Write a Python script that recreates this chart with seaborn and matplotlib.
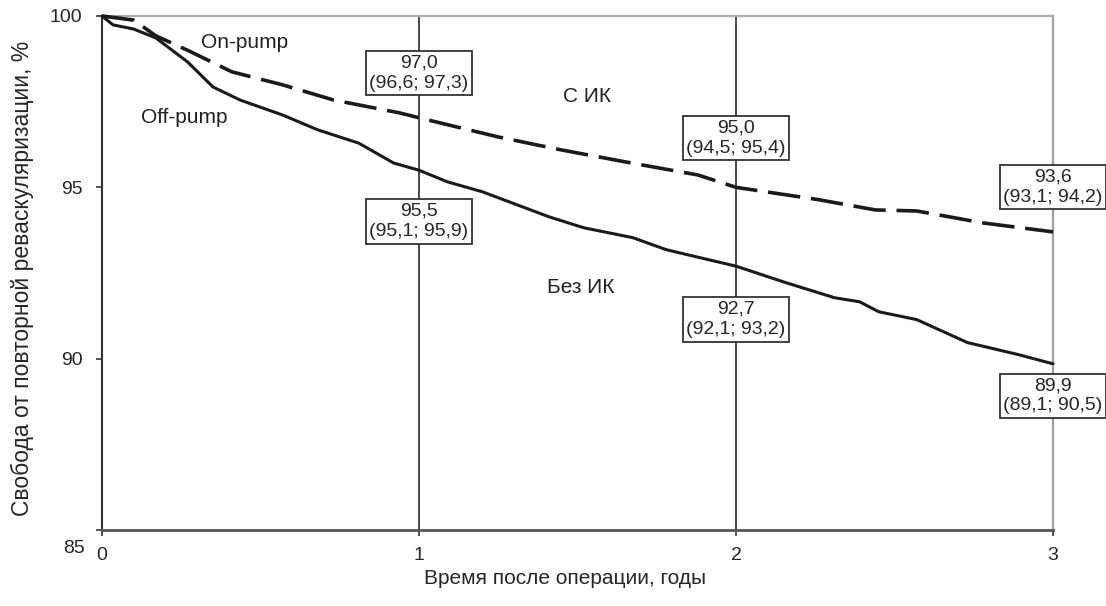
import numpy as np
import pandas as pd
import matplotlib
matplotlib.use("Agg")
import matplotlib.pyplot as plt
import seaborn as sns

# Данные
off_t = [0, 0.035, 0.10, 0.17, 0.27, 0.35, 0.435, 0.57, 0.68, 0.73, 0.81, 0.92, 1.0,
         1.09, 1.20, 1.41, 1.52, 1.675, 1.78, 1.94, 2.0, 2.15, 2.31, 2.39, 2.45,
         2.57, 2.73, 2.89, 3.0]
off_s = [100, 99.74, 99.62, 99.36, 98.66, 97.93, 97.55, 97.11, 96.68, 96.53, 96.29,
         95.71, 95.5, 95.16, 94.87, 94.14, 93.82, 93.53, 93.18, 92.83, 92.7, 92.24,
         91.78, 91.66, 91.37, 91.14, 90.47, 90.12, 89.85]

on_t = [0, 0.10, 0.17, 0.27, 0.41, 0.57, 0.73, 0.94, 1.0, 1.25, 1.45, 1.67, 1.88,
        2.0, 2.26, 2.44, 2.57, 2.78, 3.0]
on_s = [100, 99.88, 99.42, 99.0, 98.37, 97.99, 97.55, 97.17, 97.03, 96.47, 96.09,
        95.71, 95.36, 95.0, 94.64, 94.34, 94.31, 93.96, 93.7]

box_x = [1, 2, 3, 1, 2, 3]
box_y = [98.34, 96.44, 95.01, 94.0, 91.14, 88.92]
box_text = ["97,0\n(96,6; 97,3)", "95,0\n(94,5; 95,4)", "93,6\n(93,1; 94,2)",
            "95,5\n(95,1; 95,9)", "92,7\n(92,1; 93,2)", "89,9\n(89,1; 90,5)"]

curve_labels = ["On-pump", "Off-pump", "С ИК", "Без ИК"]
curve_label_x = [0.45, 0.26, 1.53, 1.51]
curve_label_y = [99.24, 97.03, 97.64, 92.07]

x_ticks = [0, 1, 2, 3]
y_ticks = [85, 90, 95, 100]

sns.set_style("white")
plt.rcParams['font.family'] = ['Liberation Sans', 'DejaVu Sans']

df_off = pd.DataFrame({'t': off_t, 's': off_s})
df_on = pd.DataFrame({'t': on_t, 's': on_s})

fig = plt.figure(figsize=(11.06, 6.06), dpi=100)
ax = fig.add_axes([0.0922, 0.1254, 0.8599, 0.8482])

# вертикальные линии на 1 и 2 годах
for xv in [1, 2]:
    ax.axvline(xv, color='#3a3a3a', lw=1.3, zorder=1)

sns.lineplot(data=df_off, x='t', y='s', ax=ax, color='#1a1a1a', lw=2.2,
             legend=False, clip_on=False, zorder=3)
sns.lineplot(data=df_on, x='t', y='s', ax=ax, color='#1a1a1a', lw=2.6,
             linestyle=(0, (9, 3)), legend=False, clip_on=False, zorder=3)

ax.set_xlim(0, 3)
ax.set_ylim(85, 100)
ax.set_xticks(x_ticks)
ax.set_yticks(y_ticks)
ax.set_yticklabels(['', '90', '95', '100'])
ax.set_xticklabels([str(v) for v in x_ticks], fontsize=14)
ax.tick_params(axis='y', labelsize=14, length=4, width=1.2, direction='out',
               left=True, pad=10, color='#333333')
ax.tick_params(axis='x', length=4, width=1.2, direction='out', bottom=True,
               pad=8, color='#333333')

# подпись 85 смещена вниз, как в оригинале
ax.annotate('85', xy=(0, 85), xycoords=('axes fraction', 'data'),
            xytext=(-12, -13), textcoords='offset points',
            ha='right', va='center', fontsize=14)

for side, col, lw in [('left', '#333333', 1.5), ('bottom', '#555555', 2.0),
                      ('top', '#aaaaaa', 1.6), ('right', '#a0a0a0', 1.6)]:
    ax.spines[side].set_color(col)
    ax.spines[side].set_linewidth(lw)

ax.set_ylabel("Свобода от повторной реваскуляризации, %", fontsize=16.5)
ax.yaxis.set_label_coords(-0.071, 0.49)
ax.set_xlabel("Время после операции, годы", fontsize=15)
ax.xaxis.set_label_coords(0.487, -0.075)

for bx, by, bt in zip(box_x, box_y, box_text):
    ax.text(bx, by, bt, ha='center', va='center', fontsize=14, linespacing=1.25,
            multialignment='center', zorder=5, clip_on=False,
            bbox=dict(boxstyle='square,pad=0.18', fc='white', ec='#333333', lw=1.3))

for lbl, lx, ly in zip(curve_labels, curve_label_x, curve_label_y):
    ax.text(lx, ly, lbl, ha='center', va='center', fontsize=15, color='#222222')

fig.savefig("out.png", dpi=100)
